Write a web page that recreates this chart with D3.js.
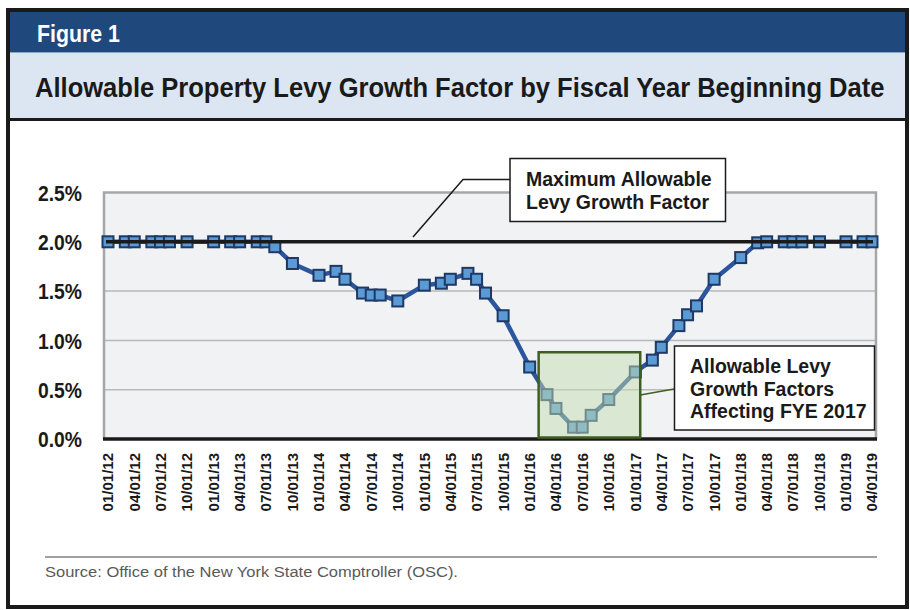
<!DOCTYPE html>
<html><head><meta charset="utf-8">
<script src="https://cdn.jsdelivr.net/npm/d3@7"></script>
<style>html,body{margin:0;padding:0;background:#fff;} svg{display:block;font-family:"Liberation Sans",Arial,sans-serif;}</style>
</head><body><svg id="c" width="910" height="610"></svg>
<script>
// ---- data ----
const fiscalStartDates = [
  "2012-01-01","2012-03-01","2012-04-01","2012-06-01","2012-07-01","2012-08-01","2012-10-01",
  "2013-01-01","2013-03-01","2013-04-01","2013-06-01","2013-07-01","2013-08-01","2013-10-01",
  "2014-01-01","2014-03-01","2014-04-01","2014-06-01","2014-07-01","2014-08-01","2014-10-01",
  "2015-01-01","2015-03-01","2015-04-01","2015-06-01","2015-07-01","2015-08-01","2015-10-01",
  "2016-01-01","2016-03-01","2016-04-01","2016-06-01","2016-07-01","2016-08-01","2016-10-01",
  "2017-01-01","2017-03-01","2017-04-01","2017-06-01","2017-07-01","2017-08-01","2017-10-01",
  "2018-01-01","2018-03-01","2018-04-01","2018-06-01","2018-07-01","2018-08-01","2018-10-01",
  "2019-01-01","2019-03-01","2019-04-01"
];
const growthFactor = [
  2.00,2.00,2.00,2.00,2.00,2.00,2.00,
  2.00,2.00,2.00,2.00,2.00,1.95,1.78,
  1.66,1.70,1.62,1.48,1.46,1.46,1.40,
  1.56,1.58,1.62,1.68,1.62,1.48,1.25,
  0.73,0.45,0.31,0.12,0.12,0.24,0.40,
  0.68,0.80,0.93,1.15,1.26,1.35,1.62,
  1.84,1.99,2.00,2.00,2.00,2.00,2.00,
  2.00,2.00,2.00
];
const tickDates = [
  "2012-01-01","2012-04-01","2012-07-01","2012-10-01",
  "2013-01-01","2013-04-01","2013-07-01","2013-10-01",
  "2014-01-01","2014-04-01","2014-07-01","2014-10-01",
  "2015-01-01","2015-04-01","2015-07-01","2015-10-01",
  "2016-01-01","2016-04-01","2016-07-01","2016-10-01",
  "2017-01-01","2017-04-01","2017-07-01","2017-10-01",
  "2018-01-01","2018-04-01","2018-07-01","2018-10-01",
  "2019-01-01","2019-04-01"
];
const yTicks = [0, 0.5, 1.0, 1.5, 2.0, 2.5];
const maxFactor = 2.0;
const highlightDates = ["2016-02-01","2017-01-18"];
const highlightTop = 0.88;
const maxLabel = ["Maximum Allowable","Levy Growth Factor"];
const highlightLabel = ["Allowable Levy","Growth Factors","Affecting FYE 2017"];
const figureLabel = "Figure 1";
const titleText = "Allowable Property Levy Growth Factor by Fiscal Year Beginning Date";
const sourceText = "Source: Office of the New York State Comptroller (OSC).";

// ---- drawing ----
const parse = d3.utcParse("%Y-%m-%d");
const fmt = d3.utcFormat("%m/%d/%y");
const pts = fiscalStartDates.map((d,i)=>({date:parse(d), v:growthFactor[i]}));
const svg = d3.select("#c");

// condensed text helper: horizontally fit text to a target width
function condensed(sel, x0, y0, width, anchor){
  sel.each(function(){
    const w = this.getComputedTextLength();
    const k = width / w;
    d3.select(this).attr("x",0).attr("y",0)
      .attr("transform",`translate(${x0},${y0}) scale(${k},1)`)
      .attr("text-anchor", anchor || "start");
  });
}

// frame & header
svg.append("rect").attr("x",8).attr("y",10).attr("width",899).attr("height",597)
  .attr("fill","#fff").attr("stroke","#1a1a1a").attr("stroke-width",4);
svg.append("rect").attr("x",10).attr("y",12).attr("width",895).attr("height",40).attr("fill","#1f497d");
svg.append("rect").attr("x",10).attr("y",53).attr("width",895).attr("height",65).attr("fill","#dce6f2");
svg.append("line").attr("x1",10).attr("x2",905).attr("y1",52.5).attr("y2",52.5).attr("stroke","#8ea6c4").attr("stroke-width",1);
svg.append("line").attr("x1",10).attr("x2",905).attr("y1",119.5).attr("y2",119.5).attr("stroke","#1a1a1a").attr("stroke-width",3);
svg.append("text").attr("fill","#fff").attr("font-weight","bold")
  .attr("font-size",23).text(figureLabel).call(condensed,37,42,83);
svg.append("text").attr("fill","#1a1a1a").attr("font-weight","bold")
  .attr("font-size",28.5).text(titleText).call(condensed,35,97,850);

// scales
const L=104, R=876, T=192.5, B=439;
const x = d3.scaleTime().domain([parse(tickDates[0]), parse(tickDates[tickDates.length-1])]).range([108,872]);
const y = d3.scaleLinear().domain([0,2.5]).range([B,T]);

// plot area
svg.append("rect").attr("x",L).attr("y",T).attr("width",R-L).attr("height",B-T).attr("fill","#f1f2f4");
svg.append("g").selectAll("line").data(yTicks.filter(v=>v>0 && v<2.5)).join("line")
  .attr("x1",L).attr("x2",R).attr("y1",d=>y(d)).attr("y2",d=>y(d))
  .attr("stroke","#b9b9b9").attr("stroke-width",1.5);
svg.append("path").attr("d",`M${L},${B}V${T}H${R}V${B}`).attr("fill","none")
  .attr("stroke","#a6a6a6").attr("stroke-width",2.5);

// y labels
svg.append("g").selectAll("text").data(yTicks).join("text")
  .attr("dy","0.36em").attr("font-weight","bold").attr("font-size",22.5).attr("fill","#1a1a1a")
  .text(d=>d.toFixed(1)+"%")
  .each(function(d){ d3.select(this).call(condensed, 82, y(d), 44, "end"); });

// x labels
svg.append("g").selectAll("text").data(tickDates.map(parse)).join("text")
  .attr("transform",d=>`translate(${x(d)},453) rotate(-90)`)
  .attr("dy","0.36em").attr("text-anchor","end")
  .attr("font-weight","bold").attr("font-size",15).attr("fill","#1a1a1a")
  .text(d=>fmt(d));

// series line & markers
svg.append("path").datum(pts)
  .attr("d",d3.line().x(d=>x(d.date)).y(d=>y(d.v)))
  .attr("fill","none").attr("stroke","#2b559c").attr("stroke-width",4.5).attr("stroke-linejoin","round");
svg.append("g").selectAll("rect").data(pts).join("rect")
  .attr("x",d=>x(d.date)-5.5).attr("y",d=>y(d.v)-5.5).attr("width",11).attr("height",11)
  .attr("fill","#5b9bd5").attr("stroke","#1f3864").attr("stroke-width",2);

// max line
svg.append("line").attr("x1",x(pts[0].date)-2).attr("x2",x(pts[pts.length-1].date)+1)
  .attr("y1",y(maxFactor)).attr("y2",y(maxFactor)).attr("stroke","#1a1a1a").attr("stroke-width",3.5);

// bottom axis
svg.append("line").attr("x1",L-1).attr("x2",R+1).attr("y1",B).attr("y2",B)
  .attr("stroke","#1a1a1a").attr("stroke-width",3.5);

// highlight box
const hx0 = x(parse(highlightDates[0])), hx1 = x(parse(highlightDates[1]));
svg.append("rect").attr("x",hx0).attr("y",y(highlightTop)).attr("width",hx1-hx0).attr("height",y(0)-y(highlightTop)-1.5)
  .attr("fill","rgba(196,222,178,0.5)").attr("stroke","#3f5f22").attr("stroke-width",2.5);
svg.append("line").attr("x1",hx1).attr("y1",395).attr("x2",674).attr("y2",389)
  .attr("stroke","#3f5f22").attr("stroke-width",1.5);

// callout 2
svg.append("rect").attr("x",674.5).attr("y",346).attr("width",200).attr("height",84)
  .attr("fill","#fff").attr("stroke","#1a1a1a").attr("stroke-width",1.5);
svg.append("g").selectAll("text").data(highlightLabel).join("text")
  .attr("x",690).attr("y",(d,i)=>373+i*22.5).attr("font-weight","bold").attr("font-size",19.5)
  .attr("fill","#1a1a1a").text(d=>d);

// callout 1
svg.append("path").attr("d","M510,179.5H463L413,237").attr("fill","none").attr("stroke","#1a1a1a").attr("stroke-width",1.5);
svg.append("rect").attr("x",510).attr("y",158.5).attr("width",215.5).attr("height",63)
  .attr("fill","#fff").attr("stroke","#1a1a1a").attr("stroke-width",1.5);
svg.append("g").selectAll("text").data(maxLabel).join("text")
  .attr("x",526).attr("y",(d,i)=>185.5+i*23).attr("font-weight","bold").attr("font-size",19.5)
  .attr("fill","#1a1a1a").text(d=>d);

// source
svg.append("line").attr("x1",45).attr("x2",877).attr("y1",557).attr("y2",557).attr("stroke","#808080").attr("stroke-width",1.5);
svg.append("text").attr("font-size",15.5).attr("fill","#595959")
  .text(sourceText).call(condensed,45,577,413);
</script></body></html>
